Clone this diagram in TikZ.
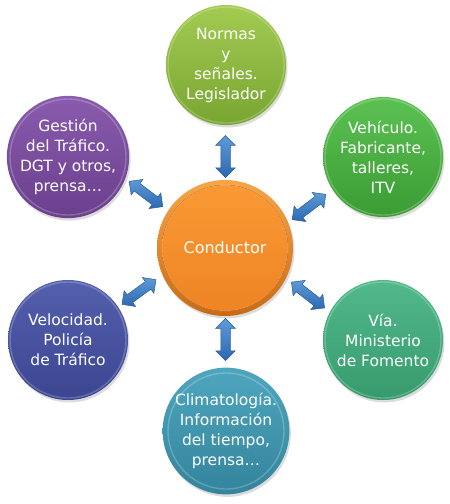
\documentclass[tikz,border=0pt]{standalone}
\usepackage{fontspec}
\setmainfont{DejaVu Sans}
\usetikzlibrary{shapes.arrows,shadows,calc}
\definecolor{arrowtop}{HTML}{5E9BD8}
\definecolor{arrowbot}{HTML}{2D68B0}
\definecolor{arrowedge}{HTML}{2A5C9A}
\definecolor{normT}{HTML}{A3CB52}\definecolor{normB}{HTML}{78A531}
\definecolor{vehT}{HTML}{5CC153}\definecolor{vehB}{HTML}{3A9C33}
\definecolor{viaT}{HTML}{52B98D}\definecolor{viaB}{HTML}{369A6C}
\definecolor{cliT}{HTML}{4EA6BE}\definecolor{cliB}{HTML}{33849C}
\definecolor{velT}{HTML}{5560AE}\definecolor{velB}{HTML}{3B4590}
\definecolor{gesT}{HTML}{8A5BAE}\definecolor{gesB}{HTML}{6A3F8C}
\definecolor{conRT}{HTML}{F8A548}\definecolor{conRB}{HTML}{C96A12}
\definecolor{conT}{HTML}{FA9A35}\definecolor{conB}{HTML}{EE8323}
\begin{document}
\begin{tikzpicture}[x=1pt,y=-1pt,
  bub/.style={circle, minimum size=120pt, inner sep=0pt, align=center, text=white,
    font=\fontsize{15.5}{20}\selectfont,
    drop shadow={opacity=0.28,shadow xshift=1.5pt,shadow yshift=-2.5pt}},
  ring/.style={draw=white, draw opacity=0.22, line width=1.4pt},
  dbl/.style={double arrow, draw=arrowedge, top color=arrowtop, bottom color=arrowbot,
    minimum height=42pt, minimum width=19pt, inner xsep=0pt, inner ysep=4.5pt,
    double arrow head extend=5pt, line width=0.5pt}
]
\useasboundingbox (0,0) rectangle (450,504);

\node[bub, top color=normT, bottom color=normB] (norm) at (226,65)
  {Normas\\y\\señales.\\Legislador};
\node[bub, top color=vehT, bottom color=vehB] (veh) at (383,157)
  {Vehículo.\\Fabricante,\\talleres,\\ITV};
\node[bub, top color=viaT, bottom color=viaB] (via) at (383,340)
  {Vía.\\Ministerio\\de Fomento};
\node[bub, top color=cliT, bottom color=cliB] (clima) at (226,431)
  {Climatología.\\Información\\del tiempo,\\prensa…};
\node[bub, top color=velT, bottom color=velB] (vel) at (68,340)
  {Velocidad.\\Policía\\de Tráfico};
\node[bub, top color=gesT, bottom color=gesB] (ges) at (68,157)
  {Gestión\\del Tráfico.\\DGT y otros,\\prensa…};

\foreach \n in {norm,veh,via,clima,vel,ges}
  \draw[ring] (\n.center) circle (58pt);

\node[bub, minimum size=136pt, top color=conRT, bottom color=conRB,
  font=\fontsize{16}{20}\selectfont,
  path picture={\fill[top color=conT, bottom color=conB]
    (path picture bounding box.center) circle (63pt);
    \draw[draw=white, draw opacity=0.18, line width=0.8pt]
    (path picture bounding box.center) circle (63pt);}] (cond) at (225,248) {Conductor};

\node[dbl, rotate=90] (a1) at ($(cond)!0.5!(norm)$) {};
\node[dbl, rotate=37] (a2) at (309,207) {};
\node[dbl, rotate=-38] (a3) at (308,295) {};
\node[dbl, rotate=90] (a4) at ($(cond)!0.5!(clima)$) {};
\node[dbl, rotate=36] (a5) at (139,292) {};
\node[dbl, rotate=-37] (a6) at (146,194) {};
\end{tikzpicture}
\end{document}
